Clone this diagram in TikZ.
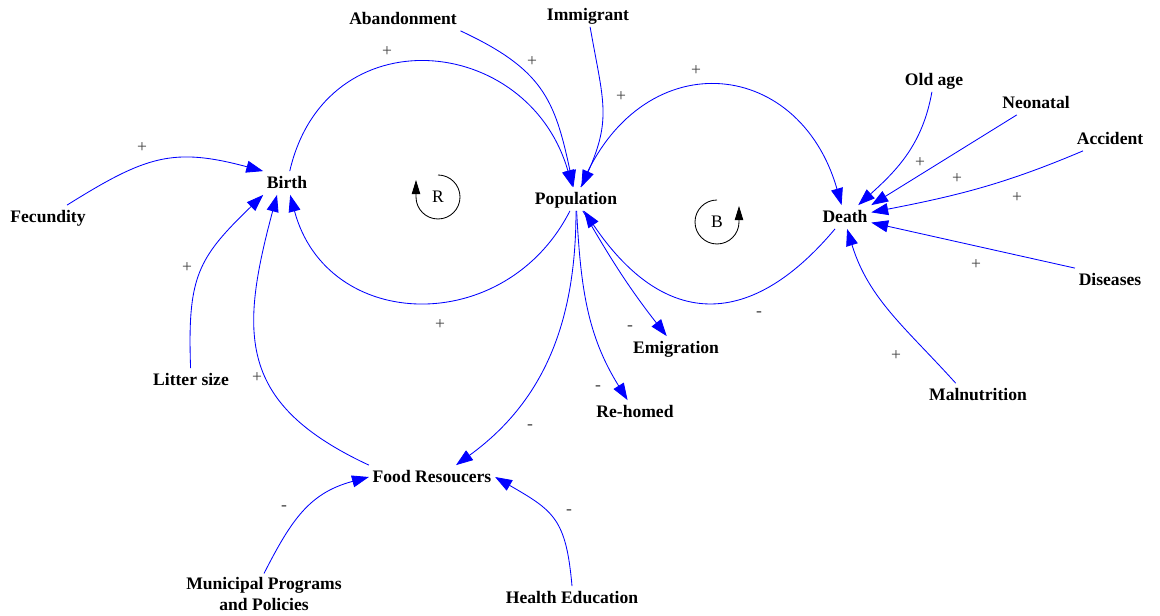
\documentclass[tikz,border=0pt]{standalone}
\usepackage{fontspec}
\setmainfont{Liberation Serif}
\usetikzlibrary{arrows.meta}

\begin{document}
\begin{tikzpicture}[x=0.025cm, y=0.025cm,
  vbase/.style={font=\fontsize{12.5}{15}\selectfont\bfseries, inner sep=2.5pt,
                align=center},
  var/.style={vbase, text height=9.5pt, text depth=2pt},
  arr/.style={draw=blue, color=blue, line width=0.6pt,
              -{Triangle[length=12pt, width=8.5pt]}},
  sgn/.style={font=\fontsize{12.5}{14}\selectfont, text=black!75, inner sep=0pt},
  lbl/.style={font=\fontsize{12.5}{14}\selectfont, inner sep=0pt},
  cyc/.style={draw=black, line width=0.6pt, -{Triangle[length=10pt, width=6pt]}},
]
  \useasboundingbox (0,0) rectangle (1160,-616);

  % Variables
  \node[var] (birth)  at (287,-183)  {Birth};
  \node[var] (pop)    at (576,-199)  {Population};
  \node[var] (death)  at (845,-217)  {Death};
  \node[var] (abandon) at (403,-19)  {Abandonment};
  \node[var] (immig)  at (588,-15)   {Immigrant};
  \node[var] (fecund) at (48,-217)   {Fecundity};
  \node[var] (litter) at (191,-380)  {Litter size};
  \node[var] (food)   at (432,-477)  {Food Resoucers};
  \node[vbase] (munic) at (264,-594) {Municipal Programs\\and Policies};
  \node[var] (health) at (572,-598)  {Health Education};
  \node[var] (emigr)  at (676,-348)  {Emigration};
  \node[var] (rehome) at (635,-412)  {Re-homed};
  \node[var] (oldage) at (934,-80)   {Old age};
  \node[var] (neonat) at (1036,-103) {Neonatal};
  \node[var] (accid)  at (1110,-139) {Accident};
  \node[var] (diseas) at (1110,-280) {Diseases};
  \node[var] (malnut) at (978,-395)  {Malnutrition};

  % Reinforcing loop
  \draw[arr] (birth) to[out=77, in=106, looseness=1.45] (pop);
  \draw[arr] (pop) to[out=243, in=-75, looseness=1.3] (birth);
  \draw[arr] (abandon.south east) to[out=-25, in=102, looseness=1.2] (pop);
  \draw[arr] (immig) to[out=-80, in=66, looseness=1.2] (pop);

  % Balancing loop
  \draw[arr] (pop) to[out=68, in=106, looseness=1.53] (death);
  \draw[arr] (death) to[out=230, in=304, looseness=1.4] (pop);
  \draw[arr] (pop) to[out=-60, in=128] (emigr);
  \draw[arr] (pop) to[out=-87, in=122] (rehome);
  \draw[arr] (pop) to[out=-90, in=36] ([xshift=0.6cm]food.north);

  % Inputs to birth
  \draw[arr] (fecund) to[out=32, in=165, looseness=1.2] (birth.north west);
  \draw[arr] (litter) to[out=92, in=224, looseness=1.25] (birth.south west);
  \draw[arr] (food.north west) to[out=155, in=-105, looseness=1.3]
    ([xshift=-0.25cm]birth.south);
  \draw[arr] (munic.north) to[out=63, in=195, looseness=1.1] (food.west);
  \draw[arr] (health.north) to[out=95, in=-30, looseness=1.3] (food.east);

  % Causes of death
  \draw[arr] (oldage) to[out=-100, in=42] (death);
  \draw[arr] (neonat) -- (death.north east);
  \draw[arr] ([xshift=0.25cm]accid.south west) to[out=203, in=11] (death.10);
  \draw[arr] (diseas.north west) -- (death.-12);
  \draw[arr] (malnut.152) to[out=132, in=-73] (death.-80);

  % Polarities
  \foreach \x/\y [count=\i] in {387/52, 532/62, 621/97, 696/71, 440/325,
      142/148, 187/268, 257/378, 920/163, 957/179, 1017/198, 976/265, 896/356}
    \node[sgn] (plus\i) at (\x,-\y) {+};
  \foreach \x/\y [count=\i] in {759/314, 630/328, 598/388, 530/427,
      284/508, 569/512}
    \node[sgn] (minus\i) at (\x,-\y) {-};

  % Loop markers
  \node[lbl] (rloop) at (438,-197) {R};
  \draw[cyc] (rloop.center) ++(0,22) arc[start angle=90, end angle=-180, radius=22]
    -- ++(0,17);
  \node[lbl] (bloop) at (717,-222) {B};
  \draw[cyc] (bloop.center) ++(0,22) arc[start angle=90, end angle=360, radius=22]
    -- ++(0,16);
\end{tikzpicture}
\end{document}
